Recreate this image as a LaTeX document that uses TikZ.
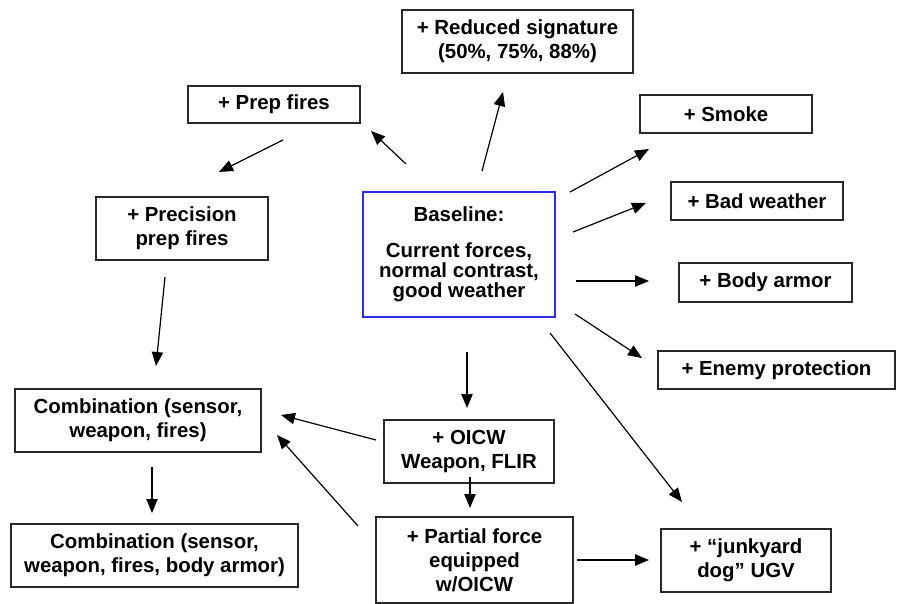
\documentclass[tikz,border=0pt]{standalone}
\usepackage{fontspec}
\setmainfont{Liberation Sans}
\usetikzlibrary{arrows.meta,calc}
\definecolor{baseblue}{RGB}{45,45,225}
\definecolor{boxline}{RGB}{40,40,40}
\begin{document}
\begin{tikzpicture}[x=0.75pt,y=-0.75pt,
  box/.style={draw=boxline,line width=1pt,fill=white,outer sep=0pt,inner sep=2pt,
    align=center,font=\fontsize{15.3}{18}\selectfont\bfseries},
  basebox/.style={box,draw=baseblue,line width=1.6pt,font=\fontsize{15.3}{15}\selectfont\bfseries},
  wh/.style 2 args={minimum width={#1*0.75pt},minimum height={#2*0.75pt}},
  arr/.style={line width=0.9pt,-{Triangle[length=10.5pt,width=8.5pt]}}]
\useasboundingbox[fill=white] (0,0) rectangle (899,603);

% boxes
\node[box,wh={231}{63}] (sig) at (517.5,41.5)
  {+ Reduced signature\\(50\%, 75\%, 88\%)};
\node[box,wh={172}{37}] (prep) at (274,104.5) {+ Prep fires};
\node[box,wh={172}{63}] (prec) at (182,228.5) {+ Precision\\prep fires};
\node[basebox,wh={192}{125}] (base) at (459,254.5)
  {Baseline:\\[12pt]Current forces,\\normal contrast,\\good weather};
\node[box,wh={172}{38}] (smoke) at (726,114) {+ Smoke};
\node[box,wh={172}{38}] (bad) at (757,201) {+ Bad weather};
\node[box,wh={173}{39}] (armor) at (765.5,282.5) {+ Body armor};
\node[box,wh={237}{38}] (enemy) at (776.5,370) {+ Enemy protection};
\node[box,wh={246}{63}] (comb) at (138,420.5)
  {Combination (sensor,\\weapon, fires)};
\node[box,wh={287}{63}] (comb2) at (154.5,555.5)
  {Combination (sensor,\\weapon, fires, body armor)};
\node[box,wh={170}{63}] (oicw) at (469,451.5) {+ OICW\\Weapon, FLIR};
\node[box,wh={197}{86}] (part) at (474.5,560)
  {+ Partial force\\equipped\\w/OICW};
\node[box,wh={170}{63}] (junk) at (746,560.5)
  {+ “junkyard\\dog” UGV};

% connectors
\draw[arr] ($(base.north)+(23,-21)$) -- ($(sig.south)+(-14.5,19)$);
\draw[arr] ($(base.north)+(-53,-28)$) -- ($(prep.south east)+(11,8)$);
\draw[arr] ($(prep.south)+(9,17)$) -- ($(prec.north)+(37,-25)$);
\draw[arr] ($(prec.south)+(-17,17)$) -- ($(comb.north)+(18,-23)$);
\draw[arr] ($(base.north east)+(15,0)$) -- ($(smoke.south west)+(9,16)$);
\draw[arr] ($(base.east)+(18,-22.5)$) -- ($(bad.west)+(-25,2)$);
\draw[arr] ($(base.east)+(21,26.5)$) -- ($(armor.west)+(-30,-1.5)$);
\draw[arr] ($(base.south east)+(20,-3)$) -- ($(enemy.west)+(-16,-12)$);
\draw[arr] ($(base.south east)+(-5,16)$) -- ($(junk.north)+(-64,-27)$);
\draw[arr] ($(base.south)+(8,35)$) -- ($(oicw.north)+(-2,-12)$);
\draw[arr] ($(oicw.west)+(-8,-11.5)$) -- ($(comb.east)+(20,-5.5)$);
\draw[arr] ($(part.north west)+(-18,9)$) -- ($(comb.east)+(16,14.5)$);
\draw[arr] ($(comb.south)+(14,15)$) -- ($(comb2.north)+(-2.5,-11)$);
\draw[arr] ($(oicw.south)+(1,-6)$) -- ($(part.north)+(-4.5,-9)$);
\draw[arr] ($(part.east)+(4,0)$) -- ($(junk.west)+(-12,-0.5)$);
\end{tikzpicture}
\end{document}
